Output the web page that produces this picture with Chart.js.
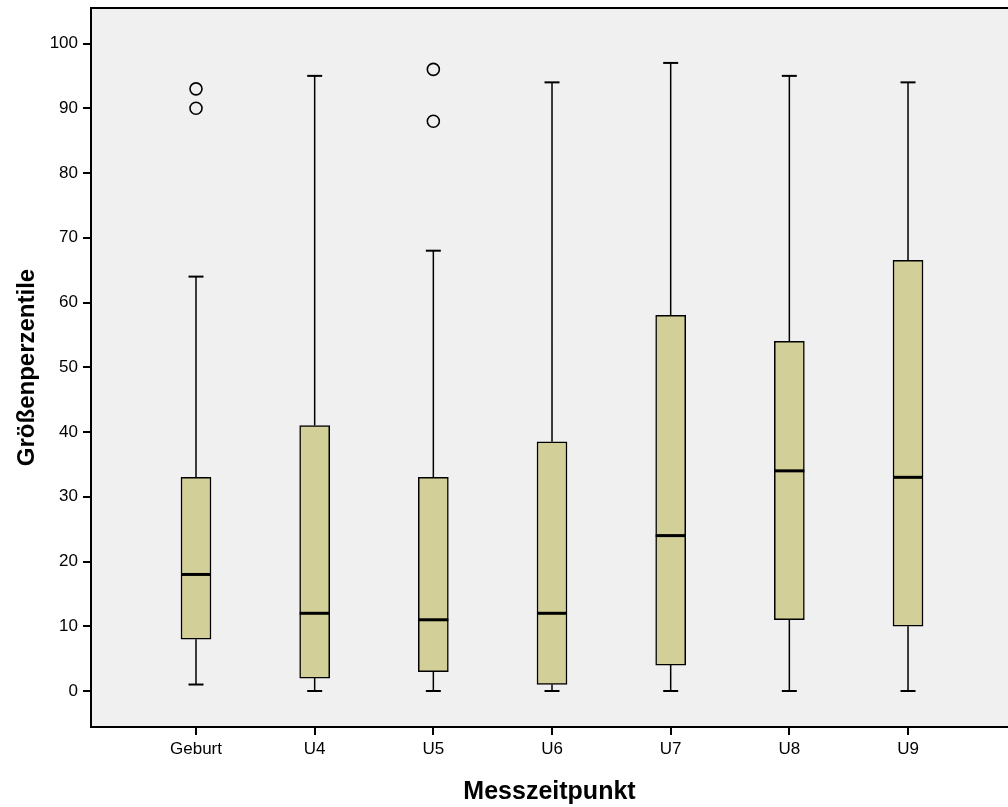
<!DOCTYPE html>
<html>
<head>
<meta charset="utf-8">
<script src="https://cdn.jsdelivr.net/npm/chart.js@4/dist/chart.umd.min.js"></script>
<style>
html,body{margin:0;padding:0;background:#fff;}
#c{display:block;}
</style>
</head>
<body>
<canvas id="c" width="1008" height="807"></canvas>
<script>
const categories = ['Geburt','U4','U5','U6','U7','U8','U9'];
const whiskerLow  = [1, 0, 0, 0, 0, 0, 0];
const q1          = [8, 2, 3, 1, 4, 11, 10];
const median      = [18, 12, 11, 12, 24, 34, 33];
const q3          = [33, 41, 33, 38.5, 58, 54, 66.5];
const whiskerHigh = [64, 95, 68, 94, 97, 95, 94];
const outlierCategory = ['Geburt','Geburt','U5','U5'];
const outlierValue    = [93, 90, 96, 88];
const yTicks = [0,10,20,30,40,50,60,70,80,90,100];

const pos = categories.map((c,i)=>i+1);
const boxData = pos.map((x,i)=>({x, y:[q1[i], q3[i]]}));
const whiskerData = [];
pos.forEach((x,i)=>{
  whiskerData.push({x, y:q3[i]}, {x, y:whiskerHigh[i]}, {x, y:null});
  whiskerData.push({x, y:whiskerLow[i]}, {x, y:q1[i]}, {x, y:null});
});
const capData = [];
pos.forEach((x,i)=>{ capData.push({x, y:whiskerHigh[i]}, {x, y:whiskerLow[i]}); });
const medianData = pos.map((x,i)=>({x, y:median[i]}));
const outlierData = outlierCategory.map((c,i)=>({x: categories.indexOf(c)+1, y: outlierValue[i]}));

const FONT = "'Liberation Sans', Arial, sans-serif";

const plotDeco = {
  id:'plotDeco',
  beforeDraw(chart){
    const {ctx, chartArea:a} = chart;
    ctx.save();
    ctx.fillStyle = '#F0F0F0';
    ctx.fillRect(a.left, a.top, a.right - a.left, a.bottom - a.top);
    ctx.restore();
  },
  afterDraw(chart){
    const {ctx, chartArea:a} = chart;
    ctx.save();
    ctx.strokeStyle = '#000';
    ctx.lineWidth = 2;
    ctx.beginPath();
    ctx.moveTo(a.left - 1, a.top);
    ctx.lineTo(a.right, a.top);
    ctx.stroke();
    ctx.restore();
  }
};

new Chart(document.getElementById('c'), {
  type: 'bar',
  data: {
    datasets: [
      { type:'line', data: whiskerData, borderColor:'#000', borderWidth:1.5, pointRadius:0, spanGaps:false, order:4 },
      { type:'scatter', data: capData, pointStyle:'line', radius:7.5, borderColor:'#000', borderWidth:2, order:3 },
      { type:'bar', data: boxData, backgroundColor:'#D3CF98', borderColor:'#000', borderWidth:1.5, borderSkipped:false, barThickness:30, order:2 },
      { type:'scatter', data: medianData, pointStyle:'line', radius:15, borderColor:'#000', borderWidth:3, order:1 },
      { type:'scatter', data: outlierData, pointStyle:'circle', radius:6, backgroundColor:'rgba(0,0,0,0)', borderColor:'#000', borderWidth:1.6, order:0 }
    ]
  },
  options: {
    responsive:false,
    animation:false,
    events:[],
    layout:{ autoPadding:false, padding:{ top:8, right:0, left:0, bottom:0 } },
    plugins:{ legend:{display:false}, tooltip:{enabled:false} },
    scales:{
      x:{
        type:'linear',
        offset:false,
        min: 1 - 105/118.67,
        max: 1 + 917/118.67 - 105/118.67,
        afterBuildTicks(s){ s.ticks = pos.map(v=>({value:v})); },
        afterFit(s){ s.height = 80; s.paddingLeft = 0; s.paddingRight = 0; },
        ticks:{ autoSkip:false, maxRotation:0, color:'#000', font:{family:FONT, size:17}, padding:4,
          callback:(v)=>categories[v-1] },
        grid:{ display:true, offset:false, drawOnChartArea:false, drawTicks:true, tickLength:8, color:'#000', lineWidth:2 },
        border:{ display:true, color:'#000', width:2 },
        title:{ display:true, text:'Messzeitpunkt', color:'#000', font:{family:FONT, size:25, weight:'bold'}, padding:{top:12, bottom:0} }
      },
      y:{
        type:'linear',
        min: -36/6.475,
        max: 683/6.475,
        afterBuildTicks(s){ s.ticks = yTicks.map(v=>({value:v})); },
        afterFit(s){ s.width = 91; s.paddingTop = 0; s.paddingBottom = 0; },
        ticks:{ color:'#000', font:{family:FONT, size:17}, padding:5 },
        grid:{ display:true, drawOnChartArea:false, drawTicks:true, tickLength:8, color:'#000', lineWidth:2 },
        border:{ display:true, color:'#000', width:2 },
        title:{ display:true, text:'Größenperzentile', color:'#000', font:{family:FONT, size:24, weight:'bold'}, padding:{top:13, bottom:8} }
      }
    }
  },
  plugins:[plotDeco]
});
</script>
</body>
</html>
